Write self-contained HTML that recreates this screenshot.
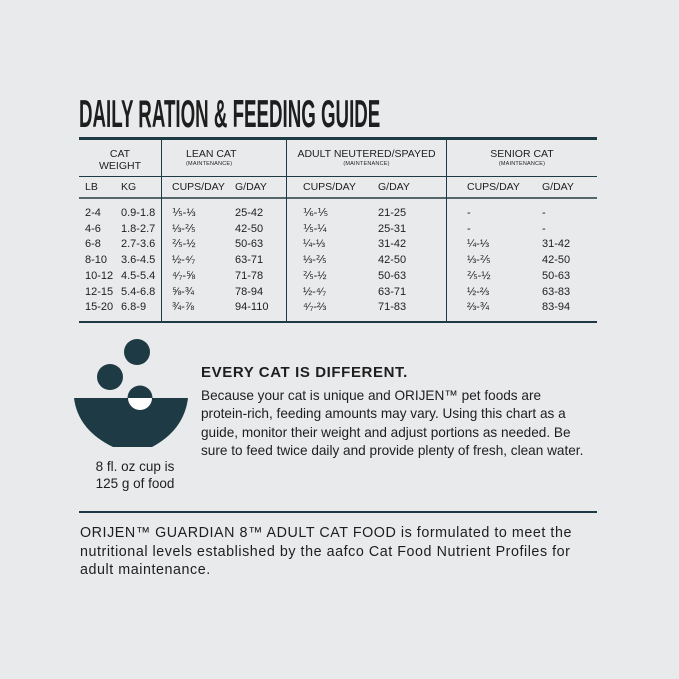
<!DOCTYPE html>
<html><head><style>
body{margin:0;width:679px;height:679px;background:#e9eaec;position:relative;overflow:hidden;font-family:"Liberation Sans",sans-serif;color:#1e1e1e}
.a{position:absolute;white-space:nowrap}
.t{font-size:10.5px}
.s{font-size:5.5px;letter-spacing:.2px}
.d{font-size:11px;line-height:15.7px}
</style></head><body>
<div class="a" style="left:79px;top:93px;font-family:'Liberation Sans Narrow','Liberation Sans',sans-serif;font-weight:bold;font-size:39px;transform:scaleX(0.48);transform-origin:left;letter-spacing:0px">DAILY RATION &amp; FEEDING GUIDE</div>
<div class="a" style="left:79px;top:137px;width:518px;height:3px;background:#1d3a45"></div>
<div class="a" style="left:79px;top:176px;width:518px;height:1px;background:#1d3a45"></div>
<div class="a" style="left:79px;top:197px;width:518px;height:2px;background:#55666e"></div>
<div class="a" style="left:79px;top:321px;width:518px;height:2px;background:#1d3a45"></div>
<div class="a" style="left:161px;top:140px;width:1px;height:182px;background:#1d3a45"></div>
<div class="a" style="left:286px;top:140px;width:1px;height:182px;background:#1d3a45"></div>
<div class="a" style="left:446px;top:140px;width:1px;height:182px;background:#1d3a45"></div>
<div class="a t" style="left:79px;width:82px;top:148px;text-align:center;line-height:12px">CAT<br>WEIGHT</div>
<div class="a t" style="left:186px;top:148px">LEAN CAT</div>
<div class="a s" style="left:186px;top:161px">(MAINTENANCE)</div>
<div class="a t" style="left:287px;width:159px;top:148px;text-align:center">ADULT NEUTERED/SPAYED</div>
<div class="a s" style="left:287px;width:159px;top:161px;text-align:center">(MAINTENANCE)</div>
<div class="a t" style="left:447px;width:150px;top:148px;text-align:center">SENIOR CAT</div>
<div class="a s" style="left:447px;width:150px;top:161px;text-align:center">(MAINTENANCE)</div>
<div class="a t" style="left:85px;top:181px">LB</div>
<div class="a t" style="left:121px;top:181px">KG</div>
<div class="a t" style="left:172px;top:181px">CUPS/DAY</div>
<div class="a t" style="left:235px;top:181px">G/DAY</div>
<div class="a t" style="left:303px;top:181px">CUPS/DAY</div>
<div class="a t" style="left:378px;top:181px">G/DAY</div>
<div class="a t" style="left:467px;top:181px">CUPS/DAY</div>
<div class="a t" style="left:542px;top:181px">G/DAY</div>
<div class="a d" style="left:85px;top:206px">2-4<br>4-6<br>6-8<br>8-10<br>10-12<br>12-15<br>15-20</div>
<div class="a d" style="left:121px;top:206px">0.9-1.8<br>1.8-2.7<br>2.7-3.6<br>3.6-4.5<br>4.5-5.4<br>5.4-6.8<br>6.8-9</div>
<div class="a d" style="left:172px;top:206px">⅕-⅓<br>⅓-⅖<br>⅖-½<br>½-⁴⁄₇<br>⁴⁄₇-⅝<br>⅝-¾<br>¾-⅞</div>
<div class="a d" style="left:235px;top:206px">25-42<br>42-50<br>50-63<br>63-71<br>71-78<br>78-94<br>94-110</div>
<div class="a d" style="left:303px;top:206px">⅙-⅕<br>⅕-¼<br>¼-⅓<br>⅓-⅖<br>⅖-½<br>½-⁴⁄₇<br>⁴⁄₇-⅔</div>
<div class="a d" style="left:378px;top:206px">21-25<br>25-31<br>31-42<br>42-50<br>50-63<br>63-71<br>71-83</div>
<div class="a d" style="left:467px;top:206px">-<br>-<br>¼-⅓<br>⅓-⅖<br>⅖-½<br>½-⅔<br>⅔-¾</div>
<div class="a d" style="left:542px;top:206px">-<br>-<br>31-42<br>42-50<br>50-63<br>63-83<br>83-94</div>
<svg class="a" style="left:0;top:0" width="679" height="679">
<circle cx="137" cy="352" r="13" fill="#1d3a45"/>
<circle cx="110" cy="377" r="13" fill="#1d3a45"/>
<path d="M74 398 L188 398 Q184 430 152 447 L113 447 Q78 430 74 398Z" fill="#1d3a45"/>
<circle cx="140" cy="398" r="12.5" fill="#1d3a45"/>
<path d="M128 398 A12 12 0 0 0 152 398Z" fill="#fff"/>
</svg>
<div class="a" style="left:70px;width:130px;top:458px;text-align:center;font-size:13.5px;line-height:17px">8 fl. oz cup is<br>125 g of food</div>
<div class="a" style="left:201px;top:364px;font-size:15px;font-weight:bold;letter-spacing:.6px">EVERY CAT IS DIFFERENT.</div>
<div class="a" style="left:201px;top:387px;font-size:13.6px;line-height:18.3px">Because your cat is unique and ORIJEN™ pet foods are<br>protein-rich, feeding amounts may vary. Using this chart as a<br>guide, monitor their weight and adjust portions as needed. Be<br>sure to feed twice daily and provide plenty of fresh, clean water.</div>
<div class="a" style="left:79px;top:511px;width:518px;height:2px;background:#1d3a45"></div>
<div class="a" style="left:80px;top:524px;font-size:14.3px;line-height:18.5px;letter-spacing:.55px">ORIJEN™ GUARDIAN 8™ ADULT CAT FOOD is formulated to meet the<br>nutritional levels established by the aafco Cat Food Nutrient Profiles for<br>adult maintenance.</div>
</body></html>
